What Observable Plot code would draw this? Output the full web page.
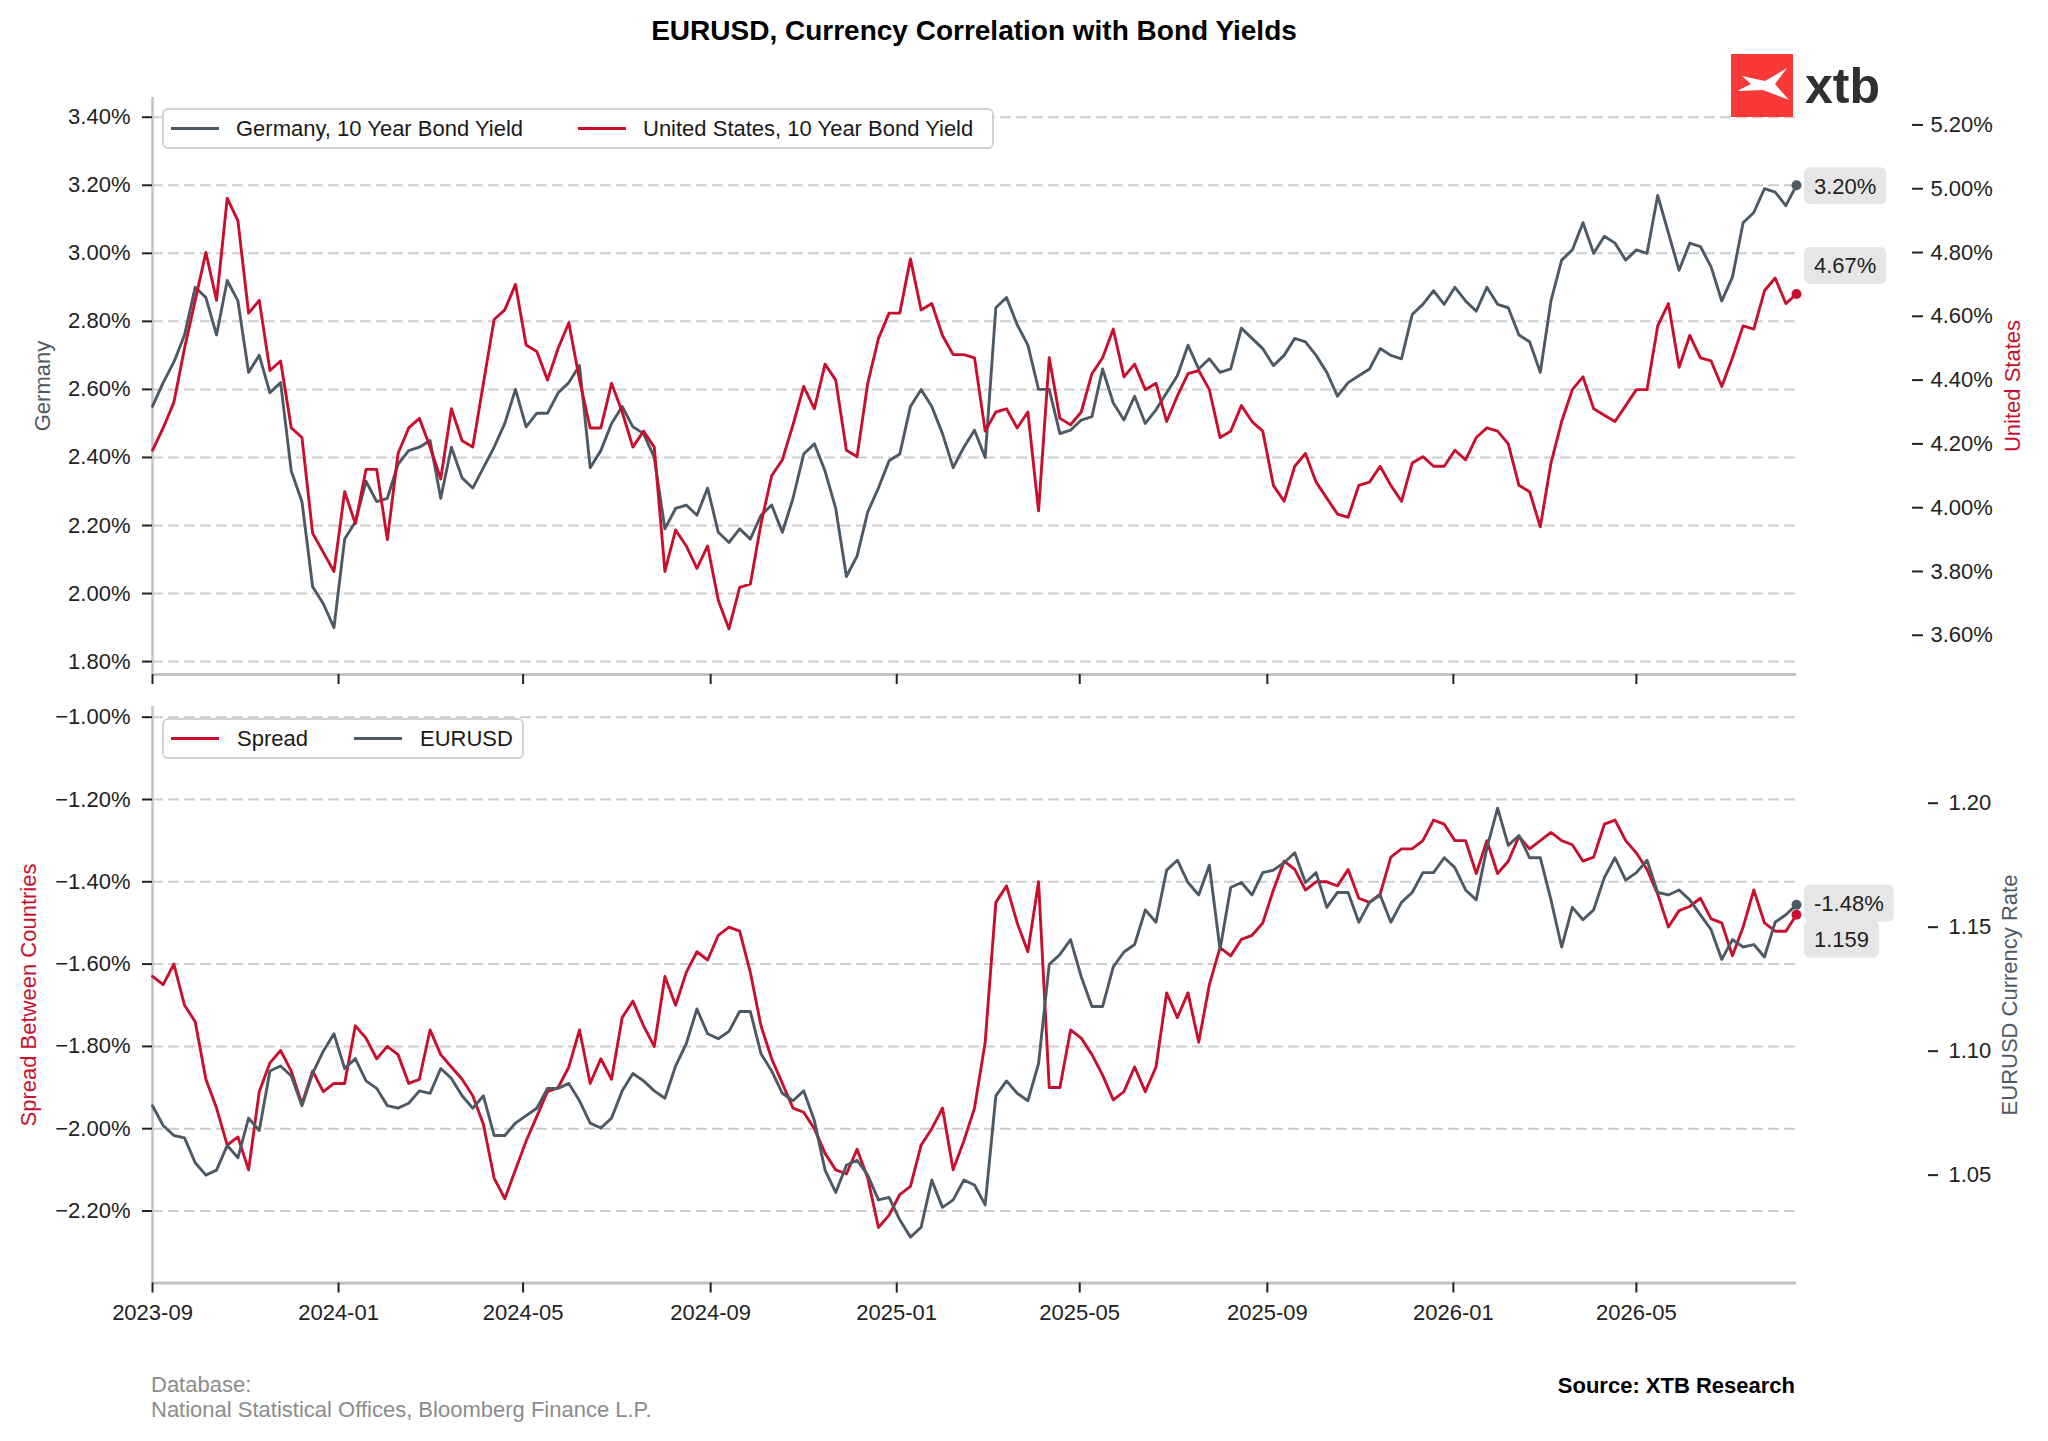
<!DOCTYPE html>
<html><head><meta charset="utf-8">
<script src="https://cdn.jsdelivr.net/npm/d3@7"></script>
<script src="https://cdn.jsdelivr.net/npm/@observablehq/plot@0.6"></script>
<style>
html,body{margin:0;padding:0;background:#fff;}
#chart{position:relative;width:2048px;height:1441px;background:#fff;font-family:"Liberation Sans",Arial,Helvetica,sans-serif;overflow:hidden;}
#chart svg{position:absolute;left:0;}
.abs{position:absolute;white-space:nowrap;}
.rot{position:absolute;white-space:nowrap;transform:translate(-50%,-50%) rotate(-90deg);font-size:22px;line-height:22px;}
.legend{position:absolute;background:#fff;border:2px solid #d3d3d3;border-radius:6px;box-sizing:border-box;height:41px;}
.legend .sw{position:absolute;top:17px;width:48px;height:3px;}
.legend .lt{position:absolute;top:8px;font-size:22px;line-height:22px;color:#1a1a1a;white-space:nowrap;}
</style></head><body><div id="chart"></div>
<script>
// ---- data (weekly readings) ----
const startDate = "2023-09-01";
const stepDays = 7;
const germany = [2.55,2.62,2.68,2.76,2.90,2.87,2.76,2.92,2.86,2.65,
 2.70,2.59,2.62,2.36,2.27,2.02,1.97,1.90,2.16,2.21,
 2.33,2.27,2.28,2.38,2.42,2.43,2.45,2.28,2.43,2.34,
 2.31,2.37,2.43,2.50,2.60,2.49,2.53,2.53,2.59,2.62,
 2.67,2.37,2.42,2.50,2.55,2.49,2.47,2.40,2.19,2.25,
 2.26,2.23,2.31,2.18,2.15,2.19,2.16,2.23,2.26,2.18,
 2.28,2.41,2.44,2.36,2.25,2.05,2.11,2.24,2.31,2.39,
 2.41,2.55,2.60,2.55,2.47,2.37,2.43,2.48,2.40,2.84,
 2.87,2.79,2.73,2.60,2.60,2.47,2.48,2.51,2.52,2.66,
 2.56,2.51,2.58,2.50,2.54,2.59,2.64,2.73,2.66,2.69,
 2.65,2.66,2.78,2.75,2.72,2.67,2.70,2.75,2.74,2.70,
 2.65,2.58,2.62,2.64,2.66,2.72,2.70,2.69,2.82,2.85,
 2.89,2.85,2.90,2.86,2.83,2.90,2.85,2.84,2.76,2.74,
 2.65,2.86,2.98,3.01,3.09,3.00,3.05,3.03,2.98,3.01,
 3.00,3.17,3.06,2.95,3.03,3.02,2.96,2.86,2.93,3.09,
 3.12,3.19,3.18,3.14,3.20];
const unitedStates = [4.18,4.25,4.33,4.50,4.65,4.80,4.65,4.97,4.90,4.61,
 4.65,4.43,4.46,4.25,4.22,3.92,3.86,3.80,4.05,3.95,
 4.12,4.12,3.90,4.17,4.25,4.28,4.19,4.09,4.31,4.21,
 4.19,4.39,4.59,4.62,4.70,4.51,4.49,4.40,4.50,4.58,
 4.40,4.25,4.25,4.39,4.30,4.19,4.24,4.19,3.80,3.93,
 3.88,3.81,3.88,3.71,3.62,3.75,3.76,3.95,4.10,4.15,
 4.26,4.38,4.31,4.45,4.40,4.18,4.16,4.39,4.53,4.61,
 4.61,4.78,4.62,4.64,4.54,4.48,4.48,4.47,4.24,4.30,
 4.31,4.25,4.30,3.99,4.47,4.28,4.26,4.30,4.42,4.47,
 4.56,4.41,4.45,4.37,4.39,4.27,4.35,4.42,4.43,4.37,
 4.22,4.24,4.32,4.27,4.24,4.07,4.02,4.13,4.17,4.08,
 4.03,3.98,3.97,4.07,4.08,4.13,4.07,4.02,4.14,4.16,
 4.13,4.13,4.18,4.15,4.22,4.25,4.24,4.20,4.07,4.05,
 3.94,4.14,4.27,4.37,4.41,4.31,4.29,4.27,4.32,4.37,
 4.37,4.57,4.64,4.44,4.54,4.47,4.46,4.38,4.47,4.57,
 4.56,4.68,4.72,4.64,4.67];
const spread = [-1.63,-1.65,-1.60,-1.70,-1.74,-1.88,-1.95,-2.04,-2.02,-2.10,
 -1.91,-1.84,-1.81,-1.86,-1.94,-1.86,-1.91,-1.89,-1.89,-1.75,
 -1.78,-1.83,-1.80,-1.82,-1.89,-1.88,-1.76,-1.82,-1.85,-1.88,
 -1.92,-1.99,-2.12,-2.17,-2.10,-2.03,-1.97,-1.91,-1.90,-1.85,
 -1.76,-1.89,-1.83,-1.88,-1.73,-1.69,-1.75,-1.80,-1.63,-1.70,
 -1.62,-1.57,-1.59,-1.53,-1.51,-1.52,-1.62,-1.75,-1.83,-1.89,
 -1.95,-1.96,-2.00,-2.06,-2.10,-2.11,-2.05,-2.12,-2.24,-2.21,
 -2.16,-2.14,-2.04,-2.00,-1.95,-2.10,-2.03,-1.95,-1.79,-1.45,
 -1.41,-1.50,-1.57,-1.40,-1.90,-1.90,-1.76,-1.78,-1.82,-1.87,
 -1.93,-1.91,-1.85,-1.91,-1.85,-1.67,-1.73,-1.67,-1.79,-1.65,
 -1.56,-1.58,-1.54,-1.53,-1.50,-1.42,-1.35,-1.37,-1.42,-1.40,
 -1.40,-1.41,-1.37,-1.44,-1.45,-1.43,-1.34,-1.32,-1.32,-1.30,
 -1.25,-1.26,-1.30,-1.30,-1.38,-1.30,-1.38,-1.35,-1.29,-1.32,
 -1.30,-1.28,-1.30,-1.31,-1.35,-1.34,-1.26,-1.25,-1.30,-1.33,
 -1.37,-1.43,-1.51,-1.47,-1.46,-1.44,-1.49,-1.50,-1.58,-1.51,
 -1.42,-1.50,-1.52,-1.52,-1.48];
const eurusd = [1.078,1.070,1.066,1.065,1.055,1.050,1.052,1.062,1.057,1.073,
 1.068,1.092,1.094,1.090,1.078,1.091,1.100,1.107,1.093,1.097,
 1.088,1.085,1.078,1.077,1.079,1.084,1.083,1.093,1.089,1.082,
 1.077,1.082,1.066,1.066,1.071,1.074,1.077,1.085,1.085,1.087,
 1.080,1.071,1.069,1.073,1.084,1.091,1.088,1.084,1.081,1.094,
 1.103,1.117,1.107,1.105,1.108,1.116,1.116,1.099,1.092,1.083,
 1.080,1.084,1.072,1.052,1.043,1.054,1.056,1.050,1.040,1.041,
 1.032,1.025,1.029,1.048,1.037,1.040,1.048,1.046,1.038,1.082,
 1.088,1.083,1.080,1.095,1.135,1.139,1.145,1.130,1.118,1.118,
 1.134,1.140,1.143,1.157,1.152,1.173,1.177,1.168,1.163,1.175,
 1.141,1.166,1.168,1.163,1.172,1.173,1.176,1.180,1.168,1.172,
 1.158,1.164,1.164,1.152,1.160,1.163,1.152,1.160,1.164,1.172,
 1.172,1.178,1.174,1.165,1.161,1.182,1.198,1.183,1.187,1.178,
 1.178,1.161,1.142,1.158,1.153,1.157,1.170,1.178,1.169,1.172,
 1.177,1.164,1.163,1.165,1.161,1.155,1.149,1.137,1.145,1.142,
 1.143,1.138,1.152,1.155,1.159];

const xTickLabels = ["2023-09","2024-01","2024-05","2024-09","2025-01","2025-05","2025-09","2026-01","2026-05"];
const germanyTicks = [1.8,2.0,2.2,2.4,2.6,2.8,3.0,3.2,3.4];
const usTicks = [3.6,3.8,4.0,4.2,4.4,4.6,4.8,5.0,5.2];
const spreadTicks = [-2.2,-2.0,-1.8,-1.6,-1.4,-1.2,-1.0];
const eurusdTicks = [1.05,1.10,1.15,1.20];

const germanyDomain = [1.762, 3.458];
const usDomain = [3.477, 5.286];
const spreadDomain = [-2.375, -0.974];
const eurusdDomain = [1.0065, 1.239];

// ---- styling ----
const GRAY = "#4d5964", RED = "#c8102e", GRID = "#cdcdcd", SPINE = "#c2c2c2";
const FONT = "'Liberation Sans', Arial, Helvetica, sans-serif";
const LINE_W = 2.9;

const t0 = new Date(startDate + "T00:00:00Z");
const dateAt = i => d3.utcDay.offset(t0, i * stepDays);
const rows = arr => arr.map((v, i) => ({date: dateAt(i), value: v}));
const xTicks = xTickLabels.map(s => new Date(s + "-01T00:00:00Z"));
const xDomain = [t0, dateAt(germany.length - 1)];
const pct = d => (d < 0 ? "\u2212" : "") + Math.abs(d).toFixed(2) + "%";

const usToLeft = d3.scaleLinear().domain(usDomain).range(germanyDomain);
const eurToLeft = d3.scaleLinear().domain(eurusdDomain).range(spreadDomain);

const gRows = rows(germany), uRows = rows(unitedStates), sRows = rows(spread), eRows = rows(eurusd);
const common = {width: 2048, marginLeft: 152, marginRight: 252,
  style: {fontFamily: FONT, fontSize: "22px", color: "#222", background: "transparent", overflow: "visible"}};

const p1 = Plot.plot({
  ...common, height: 700, marginTop: 97, marginBottom: 26,
  x: {type: "utc", domain: xDomain, axis: null, label: null},
  y: {domain: germanyDomain, axis: null, label: null},
  marks: [
    Plot.ruleY(germanyTicks, {stroke: GRID, strokeWidth: 2, strokeDasharray: "11,5"}),
    Plot.ruleX([xDomain[0]], {stroke: SPINE, strokeWidth: 2.5}),
    Plot.ruleY([germanyDomain[0]], {stroke: SPINE, strokeWidth: 3}),
    Plot.axisX(xTicks, {anchor: "bottom", tickSize: 10, strokeWidth: 2, tickFormat: () => "", label: null}),
    Plot.axisY(germanyTicks, {anchor: "left", tickSize: 10, tickPadding: 12, strokeWidth: 2, tickFormat: pct, label: null}),
    Plot.axisY(usTicks.map(usToLeft), {anchor: "right", dx: 115, tickSize: 11, tickPadding: 8, strokeWidth: 2,
      tickFormat: d => usToLeft.invert(d).toFixed(2) + "%", label: null}),
    Plot.line(gRows, {x: "date", y: "value", stroke: GRAY, strokeWidth: LINE_W}),
    Plot.line(uRows, {x: "date", y: d => usToLeft(d.value), stroke: RED, strokeWidth: LINE_W}),
    Plot.dot(gRows.slice(-1), {x: "date", y: "value", fill: GRAY, r: 5}),
    Plot.dot(uRows.slice(-1), {x: "date", y: d => usToLeft(d.value), fill: RED, r: 5})
  ]
});

const p2 = Plot.plot({
  ...common, height: 741, marginTop: 6, marginBottom: 158.5,
  x: {type: "utc", domain: xDomain, axis: null, label: null},
  y: {domain: spreadDomain, axis: null, label: null},
  marks: [
    Plot.ruleY(spreadTicks, {stroke: GRID, strokeWidth: 2, strokeDasharray: "11,5"}),
    Plot.ruleX([xDomain[0]], {stroke: SPINE, strokeWidth: 2.5}),
    Plot.ruleY([spreadDomain[0]], {stroke: SPINE, strokeWidth: 3}),
    Plot.axisX(xTicks, {anchor: "bottom", tickSize: 10, tickPadding: 11, strokeWidth: 2,
      tickFormat: d3.utcFormat("%Y-%m"), label: null}),
    Plot.axisY(spreadTicks, {anchor: "left", tickSize: 10, tickPadding: 12, strokeWidth: 2, tickFormat: pct, label: null}),
    Plot.axisY(eurusdTicks.map(eurToLeft), {anchor: "right", dx: 131, tickSize: 10, tickPadding: 11, strokeWidth: 2,
      tickFormat: d => eurToLeft.invert(d).toFixed(2), label: null}),
    Plot.line(sRows, {x: "date", y: "value", stroke: RED, strokeWidth: LINE_W}),
    Plot.line(eRows, {x: "date", y: d => eurToLeft(d.value), stroke: GRAY, strokeWidth: LINE_W}),
    Plot.dot(sRows.slice(-1), {x: "date", y: "value", fill: RED, r: 5}),
    Plot.dot(eRows.slice(-1), {x: "date", y: d => eurToLeft(d.value), fill: GRAY, r: 5})
  ]
});

const chart = document.getElementById("chart");
p1.style.top = "0px";
p2.style.top = "700px";
chart.appendChild(p1);
chart.appendChild(p2);

// value boxes at the end of the lines, positioned through the plot scales
function valueBox(plot, dateValue, yValue, text, dy) {
  const sx = plot.scale("x"), sy = plot.scale("y");
  const px = sx.apply(dateValue) + 8;
  const py = sy.apply(yValue) + dy;
  const g = d3.select(plot).append("g").attr("font-family", FONT).attr("text-anchor", "start");
  const t = g.append("text").attr("x", px + 10).attr("y", py).attr("dy", "0.36em")
    .attr("text-anchor", "start").attr("font-size", 22).attr("fill", "#222").text(text);
  const w = t.node().getComputedTextLength();
  g.insert("rect", "text").attr("x", px).attr("y", py - 18.5).attr("width", w + 20).attr("height", 37)
    .attr("rx", 6).attr("fill", "#e6e6e6");
}
const last = xDomain[1];
valueBox(p1, last, germany[germany.length - 1], germany[germany.length - 1].toFixed(2) + "%", 1);
valueBox(p1, last, usToLeft(unitedStates[unitedStates.length - 1]), unitedStates[unitedStates.length - 1].toFixed(2) + "%", -28);
valueBox(p2, last, eurToLeft(eurusd[eurusd.length - 1]), spread[spread.length - 1].toFixed(2) + "%", -1);
valueBox(p2, last, eurToLeft(eurusd[eurusd.length - 1]), eurusd[eurusd.length - 1].toFixed(3), 35);

// ---- HTML text: title, logo, legends, axis titles, footer ----
chart.insertAdjacentHTML("beforeend", `
<div class="abs" style="left:152px;width:1644px;top:17px;text-align:center;font-weight:bold;font-size:28px;line-height:28px;color:#000;">EURUSD, Currency Correlation with Bond Yields</div>
<svg style="position:absolute;left:1725px;top:45px;" width="180" height="80">
  <rect x="6" y="9" width="62" height="63" fill="#f93838"/>
  <polygon points="17,31 40,36 62,23 50,39 64,55 38,45 12,46 26,39" fill="#fff"/>
  <text x="80" y="58" font-family="${FONT}" font-size="50" font-weight="bold" fill="#303030">xtb</text>
</svg>
<div class="legend" style="left:162px;top:108px;width:832px;">
  <div class="sw" style="left:7px;background:${GRAY};"></div><div class="lt" style="left:72px;">Germany, 10 Year Bond Yield</div>
  <div class="sw" style="left:414px;background:${RED};"></div><div class="lt" style="left:479px;">United States, 10 Year Bond Yield</div>
</div>
<div class="legend" style="left:162px;top:718px;width:362px;">
  <div class="sw" style="left:7px;background:${RED};"></div><div class="lt" style="left:73px;">Spread</div>
  <div class="sw" style="left:190px;background:${GRAY};"></div><div class="lt" style="left:256px;">EURUSD</div>
</div>
<div class="rot" style="left:43px;top:386px;color:${GRAY};">Germany</div>
<div class="rot" style="left:2013px;top:386px;color:${RED};">United States</div>
<div class="rot" style="left:29px;top:995px;color:${RED};">Spread Between Countries</div>
<div class="rot" style="left:2010px;top:995px;color:${GRAY};">EURUSD Currency Rate</div>
<div class="abs" style="left:151px;top:1374px;font-size:22px;line-height:22px;color:#8c8c8c;">Database:</div>
<div class="abs" style="left:151px;top:1399px;font-size:22px;line-height:22px;color:#8c8c8c;">National Statistical Offices, Bloomberg Finance L.P.</div>
<div class="abs" style="right:253px;top:1375px;font-size:22px;line-height:22px;font-weight:bold;color:#000;">Source: XTB Research</div>
`);
</script></body></html>
